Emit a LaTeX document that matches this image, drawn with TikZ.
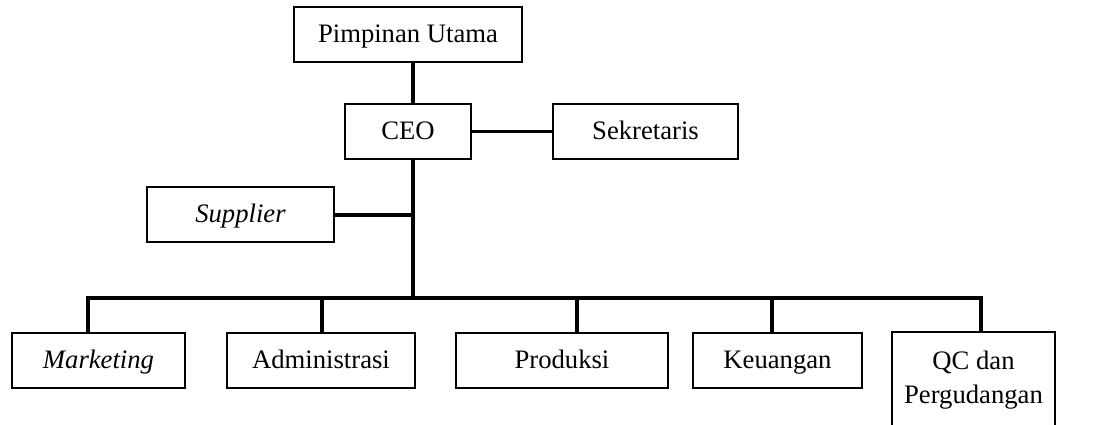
\documentclass[tikz,border=0pt]{standalone}
\usepackage{fontspec}
\setmainfont{Liberation Serif}
\usetikzlibrary{positioning}

\tikzset{
  unit/.style={draw, fill=white, line width=0.9pt, inner sep=0pt,
    minimum height=55*0.45pt, text height=9pt, text depth=1.8pt,
    font=\fontsize{12}{15.3}\selectfont},
  conn/.style={line width=1.4pt},
}

\begin{document}
\begin{tikzpicture}[x=0.45pt, y=-0.45pt]
    \useasboundingbox (0,0) rectangle (1101,425);
    % pimpinan dan CEO
    \node[unit, minimum width=228*0.45pt] (pim) at (408,35) {Pimpinan Utama};
    \node[unit, minimum width=126*0.45pt] (ceo) at (408,131.5) {CEO};
    \node[unit, minimum width=185*0.45pt] (sek) at (645.5,131.5) {Sekretaris};
    \node[unit, minimum width=187*0.45pt] (sup) at (240.5,215) {\textit{Supplier}};
    % divisi
    \node[unit, minimum width=173*0.45pt] (mkt) at (98.5,360.5) {\textit{Marketing}};
    \node[unit, minimum width=188*0.45pt] (adm) at (321,360.5) {Administrasi};
    \node[unit, minimum width=212*0.45pt] (prd) at (562,360.5) {Produksi};
    \node[unit, minimum width=169*0.45pt] (keu) at (777.5,360.5) {Keuangan};
    \node[unit, minimum width=163*0.45pt, minimum height=96*0.45pt,
          text height=, text depth=, align=center, anchor=north] (qc) at (973.5,331)
          {QC dan\\Pergudangan};
    % titik cabang
    \coordinate (bus) at (413,298);
    \coordinate (dm) at (88,298);
    \coordinate (da) at (322,298);
    \coordinate (dp) at (577,298);
    \coordinate (dk) at (772,298);
    \coordinate (dq) at (981,298);
    % garis
    \draw[conn] (pim.south -| bus) -- (ceo.north -| bus);
    \draw[conn] (ceo.south -| bus) -- (bus);
    \draw[conn] (ceo.east) -- (sek.west);
    \draw[conn] (sup.east) -- (sup.east -| bus);
    \draw[conn] (dm |- mkt.north) -- (dm) -- (dq) -- (dq |- qc.north);
    \draw[conn] (da) -- (da |- adm.north);
    \draw[conn] (dp) -- (dp |- prd.north);
    \draw[conn] (dk) -- (dk |- keu.north);
\end{tikzpicture}
\end{document}
